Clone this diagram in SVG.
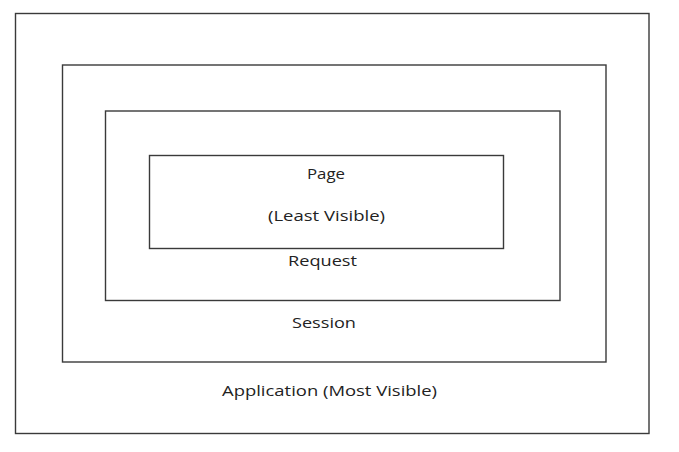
<svg xmlns="http://www.w3.org/2000/svg" width="679" height="452" viewBox="0 0 679 452">
<style>
.box{fill:none;stroke:#3a3a3a;stroke-width:1.4}
.lbl{font-family:"Open Sans","Liberation Sans",sans-serif;font-size:15px;fill:#222;text-anchor:middle}
</style>
<rect width="679" height="452" fill="#fff"/>
<g id="application">
<rect class="box" x="15.5" y="13.5" width="633.5" height="420"/>
<text class="lbl" x="329.5" y="396" textLength="215" lengthAdjust="spacingAndGlyphs">Application (Most Visible)</text>
</g>
<g id="session">
<rect class="box" x="62.5" y="65" width="543.5" height="297"/>
<text class="lbl" x="324" y="328" textLength="64" lengthAdjust="spacingAndGlyphs">Session</text>
</g>
<g id="request">
<rect class="box" x="105.5" y="111" width="454.5" height="189.5"/>
<text class="lbl" x="322.5" y="266" textLength="69" lengthAdjust="spacingAndGlyphs">Request</text>
</g>
<g id="page">
<rect class="box" x="149.5" y="155.5" width="354" height="93"/>
<text class="lbl" x="326" y="179" textLength="38" lengthAdjust="spacingAndGlyphs">Page</text>
<text class="lbl" x="326.5" y="221" textLength="117" lengthAdjust="spacingAndGlyphs">(Least Visible)</text>
</g>
<g id="connectors"/>
</svg>
